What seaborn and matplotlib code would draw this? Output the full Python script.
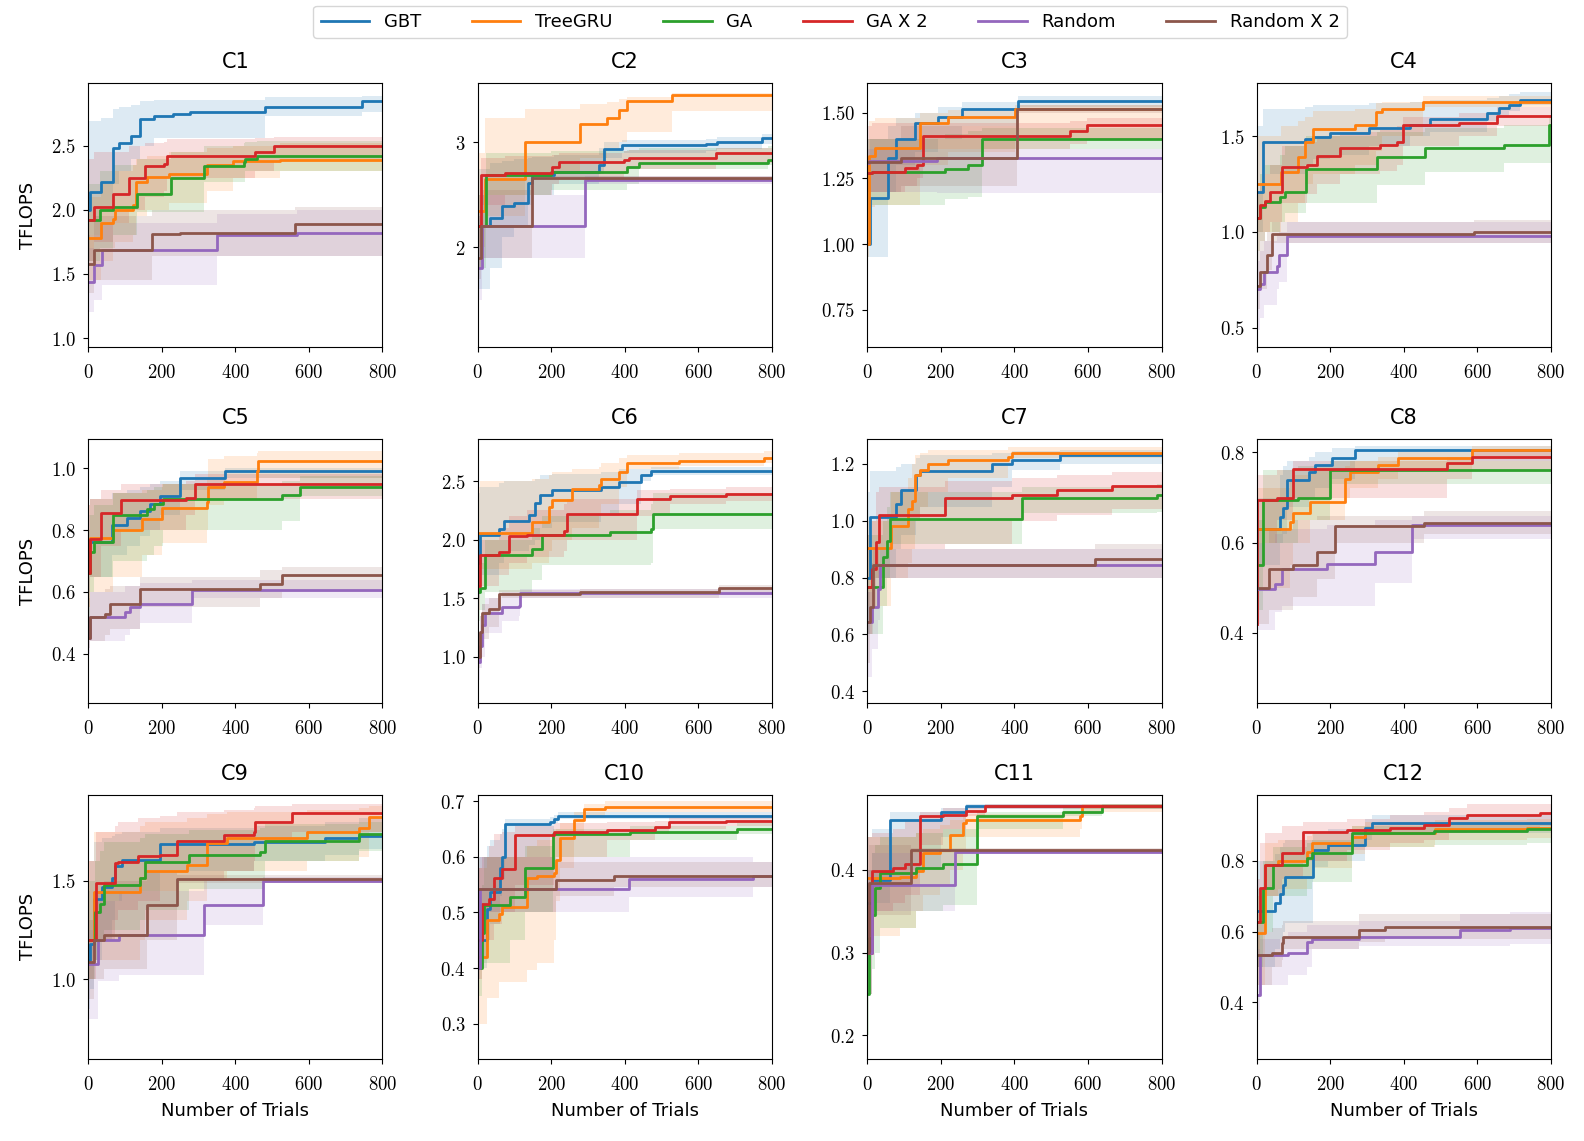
import matplotlib
matplotlib.use("Agg")
import matplotlib.pyplot as plt
from matplotlib.ticker import FuncFormatter
from matplotlib.lines import Line2D
import seaborn as sns
import pandas as pd

plt.rcParams["mathtext.fontset"] = "cm"
plt.rcParams["font.family"] = ["DejaVu Sans"]

METHODS = ["GBT", "TreeGRU", "GA", "GA X 2", "Random", "Random X 2"]
COLORS = ["#1f77b4", "#ff7f0e", "#2ca02c", "#d62728", "#9467bd", "#8c564b"]
TITLES = ["C%d" % i for i in range(1, 13)]
X_MAX = 800
X_TICKS = [0, 200, 400, 600, 800]

# each series: (trial breakpoints, best TFLOPS, band low, band high)
C1 = {
    "GBT": ([0, 5, 34, 69, 84, 116, 140, 178, 232, 278, 482, 745],
            [2.0, 2.14, 2.22, 2.48, 2.52, 2.58, 2.71, 2.73, 2.75, 2.76, 2.80, 2.85],
            [1.6, 1.8, 2.0, 2.2, 2.3, 2.4, 2.5, 2.56, 2.56, 2.56, 2.73, 2.76],
            [2.69, 2.69, 2.72, 2.79, 2.80, 2.82, 2.85, 2.86, 2.86, 2.86, 2.88, 2.89]),
    "TreeGRU": ([0, 34, 69, 73, 123, 131, 160, 219, 323, 395, 522],
                [1.78, 1.90, 1.93, 2.00, 2.04, 2.22, 2.26, 2.28, 2.35, 2.38, 2.39],
                [1.45, 1.6, 1.7, 1.75, 1.8, 1.95, 2.0, 2.05, 2.15, 2.25, 2.3],
                [2.1, 2.2, 2.25, 2.3, 2.35, 2.4, 2.42, 2.45, 2.48, 2.5, 2.52]),
    "GA": ([0, 33, 69, 134, 225, 314, 423, 427, 459],
           [1.92, 2.0, 2.02, 2.12, 2.25, 2.34, 2.37, 2.40, 2.42],
           [1.6, 1.7, 1.8, 1.98, 1.98, 2.22, 2.22, 2.3, 2.3],
           [2.2, 2.3, 2.35, 2.4, 2.45, 2.5, 2.52, 2.53, 2.54]),
    "GA X 2": ([0, 15, 67, 112, 155, 205, 214, 454, 506],
               [1.92, 2.02, 2.12, 2.25, 2.34, 2.36, 2.42, 2.45, 2.50],
               [1.6, 1.75, 1.9, 2.0, 2.1, 2.15, 2.25, 2.3, 2.38],
               [2.4, 2.45, 2.45, 2.5, 2.52, 2.53, 2.55, 2.56, 2.57]),
    "Random": ([0, 15, 37, 350, 568],
               [1.44, 1.57, 1.69, 1.80, 1.82],
               [1.2, 1.3, 1.41, 1.64, 1.64],
               [1.7, 1.8, 1.9, 1.97, 2.0]),
    "Random X 2": ([0, 15, 173, 250, 563],
                   [1.58, 1.69, 1.81, 1.82, 1.89],
                   [1.35, 1.45, 1.64, 1.64, 1.64],
                   [1.8, 1.95, 2.0, 2.0, 2.02]),
}

C2 = {
    "GBT": ([0, 35, 66, 98, 136, 148, 207, 329, 343, 393, 620, 651, 774],
            [2.2, 2.28, 2.39, 2.42, 2.61, 2.69, 2.72, 2.78, 2.94, 2.97, 2.98, 3.0, 3.04],
            [1.6, 1.8, 2.1, 2.2, 2.4, 2.5, 2.6, 2.7, 2.85, 2.9, 2.92, 2.94, 2.98],
            [2.75, 2.8, 2.82, 2.84, 2.85, 2.86, 2.88, 2.95, 3.0, 3.02, 3.03, 3.05, 3.08]),
    "TreeGRU": ([0, 21, 130, 278, 352, 384, 406, 529],
                [2.35, 2.65, 3.0, 3.17, 3.23, 3.31, 3.39, 3.45],
                [2.0, 2.3, 2.7, 2.85, 2.95, 3.0, 3.1, 3.3],
                [2.9, 3.23, 3.32, 3.36, 3.38, 3.41, 3.43, 3.47]),
    "GA": ([0, 24, 200, 405, 438, 790],
           [2.2, 2.69, 2.72, 2.76, 2.80, 2.83],
           [1.8, 2.5, 2.55, 2.6, 2.75, 2.78],
           [2.5, 2.9, 2.92, 2.93, 2.95, 2.96]),
    "GA X 2": ([0, 8, 75, 202, 220, 397, 411, 647],
               [2.2, 2.69, 2.71, 2.76, 2.81, 2.83, 2.85, 2.90],
               [1.8, 2.4, 2.5, 2.6, 2.65, 2.7, 2.75, 2.8],
               [2.5, 2.85, 2.87, 2.88, 2.9, 2.92, 2.93, 2.95]),
    "Random": ([0, 12, 293],
               [1.8, 2.20, 2.64],
               [1.5, 1.9, 2.6],
               [2.3, 2.5, 2.68]),
    "Random X 2": ([0, 8, 148],
                   [1.9, 2.20, 2.66],
                   [1.7, 1.9, 2.64],
                   [2.3, 2.55, 2.68]),
}

C3 = {
    "GBT": ([0, 7, 57, 78, 130, 193, 257, 411],
            [1.0, 1.176, 1.326, 1.40, 1.46, 1.485, 1.513, 1.544],
            [0.95, 0.95, 1.2, 1.3, 1.35, 1.4, 1.45, 1.52],
            [1.3, 1.4, 1.45, 1.48, 1.5, 1.52, 1.54, 1.565]),
    "TreeGRU": ([0, 5, 21, 143, 220, 402],
                [1.0, 1.336, 1.367, 1.46, 1.485, 1.513],
                [0.95, 1.14, 1.15, 1.3, 1.35, 1.4],
                [1.1, 1.47, 1.48, 1.5, 1.51, 1.53]),
    "GA": ([0, 12, 211, 275, 311],
           [1.27, 1.275, 1.286, 1.30, 1.40],
           [1.15, 1.15, 1.17, 1.18, 1.36],
           [1.40, 1.40, 1.42, 1.43, 1.44]),
    "GA X 2": ([0, 12, 103, 136, 152, 551, 597],
               [1.27, 1.275, 1.288, 1.30, 1.41, 1.43, 1.455],
               [1.2, 1.2, 1.22, 1.25, 1.36, 1.38, 1.4],
               [1.45, 1.46, 1.46, 1.46, 1.46, 1.47, 1.48]),
    "Random": ([0, 5, 190],
               [1.31, 1.315, 1.326],
               [1.2, 1.2, 1.193],
               [1.36, 1.36, 1.36]),
    "Random X 2": ([0, 93, 406],
                   [1.313, 1.326, 1.513],
                   [1.2, 1.22, 1.5],
                   [1.4, 1.45, 1.53]),
}

C4 = {
    "GBT": ([0, 16, 132, 154, 198, 304, 417, 472, 626, 658, 685, 715],
            [1.21, 1.47, 1.484, 1.497, 1.514, 1.54, 1.557, 1.59, 1.62, 1.645, 1.66, 1.69],
            [1.0, 1.3, 1.35, 1.38, 1.4, 1.45, 1.5, 1.52, 1.58, 1.6, 1.63, 1.66],
            [1.55, 1.64, 1.65, 1.66, 1.66, 1.67, 1.68, 1.69, 1.70, 1.71, 1.72, 1.73]),
    "TreeGRU": ([0, 65, 113, 132, 154, 268, 325, 340, 453],
                [1.25, 1.31, 1.39, 1.47, 1.535, 1.557, 1.627, 1.64, 1.68],
                [1.0, 1.05, 1.15, 1.25, 1.3, 1.35, 1.42, 1.5, 1.65],
                [1.5, 1.55, 1.58, 1.6, 1.63, 1.64, 1.67, 1.68, 1.71]),
    "GA": ([0, 9, 23, 64, 77, 134, 327, 458, 671, 794],
           [1.07, 1.13, 1.157, 1.18, 1.21, 1.33, 1.39, 1.436, 1.453, 1.557],
           [0.9, 0.95, 1.0, 1.05, 1.1, 1.148, 1.244, 1.314, 1.357, 1.36],
           [1.2, 1.3, 1.35, 1.4, 1.45, 1.5, 1.52, 1.54, 1.56, 1.6]),
    "GA X 2": ([0, 9, 23, 36, 68, 136, 163, 227, 336, 381, 397, 549, 653],
               [1.07, 1.14, 1.16, 1.21, 1.34, 1.35, 1.397, 1.44, 1.453, 1.47, 1.557, 1.566, 1.606],
               [0.9, 0.95, 1.0, 1.05, 1.15, 1.2, 1.25, 1.3, 1.32, 1.35, 1.45, 1.5, 1.55],
               [1.2, 1.25, 1.3, 1.35, 1.45, 1.47, 1.5, 1.52, 1.53, 1.55, 1.6, 1.62, 1.65]),
    "Random": ([0, 9, 20, 54, 62, 82],
               [0.70, 0.73, 0.79, 0.82, 0.878, 0.98],
               [0.49, 0.55, 0.62, 0.7, 0.74, 0.94],
               [0.85, 0.9, 0.95, 0.98, 1.0, 1.05]),
    "Random X 2": ([0, 9, 27, 41, 590],
                   [0.72, 0.79, 0.88, 0.99, 1.0],
                   [0.6, 0.7, 0.8, 0.94, 0.94],
                   [0.9, 0.95, 1.0, 1.05, 1.06]),
}

C5 = {
    "GBT": ([0, 5, 64, 105, 142, 169, 196, 250, 373],
            [0.66, 0.762, 0.816, 0.838, 0.862, 0.886, 0.911, 0.968, 0.991],
            [0.6, 0.65, 0.72, 0.75, 0.78, 0.8, 0.85, 0.93, 0.97],
            [0.85, 0.9, 0.92, 0.93, 0.94, 0.95, 0.96, 0.99, 1.0]),
    "TreeGRU": ([0, 5, 69, 146, 200, 323, 327, 368, 459, 463],
                [0.66, 0.775, 0.80, 0.836, 0.87, 0.89, 0.94, 0.957, 0.991, 1.022],
                [0.55, 0.6, 0.65, 0.72, 0.76, 0.8, 0.88, 0.9, 0.95, 0.97],
                [0.88, 0.9, 0.92, 0.93, 0.95, 0.97, 1.03, 1.04, 1.05, 1.055]),
    "GA": ([0, 5, 15, 67, 160, 178, 203, 527, 577],
           [0.66, 0.73, 0.762, 0.849, 0.868, 0.886, 0.90, 0.914, 0.94],
           [0.5, 0.6, 0.65, 0.7, 0.72, 0.75, 0.8, 0.83, 0.91],
           [0.8, 0.85, 0.88, 0.92, 0.93, 0.94, 0.95, 0.96, 0.975]),
    "GA X 2": ([0, 5, 34, 89, 267, 291],
               [0.66, 0.77, 0.856, 0.897, 0.903, 0.948],
               [0.55, 0.65, 0.75, 0.8, 0.85, 0.9],
               [0.88, 0.9, 0.93, 0.95, 0.96, 0.98]),
    "Random": ([0, 5, 101, 114, 141, 282],
               [0.45, 0.52, 0.535, 0.55, 0.56, 0.605],
               [0.4, 0.44, 0.46, 0.48, 0.5, 0.58],
               [0.55, 0.6, 0.62, 0.62, 0.63, 0.64]),
    "Random X 2": ([0, 5, 46, 60, 142, 468, 527],
                   [0.45, 0.52, 0.53, 0.56, 0.61, 0.627, 0.656],
                   [0.42, 0.44, 0.46, 0.48, 0.55, 0.58, 0.6],
                   [0.58, 0.6, 0.61, 0.62, 0.65, 0.67, 0.68]),
}

C6 = {
    "GBT": ([0, 7, 57, 71, 139, 157, 170, 202, 334, 384, 443, 470],
            [1.8, 2.037, 2.09, 2.16, 2.21, 2.31, 2.38, 2.42, 2.45, 2.49, 2.55, 2.586],
            [1.5, 1.7, 1.8, 1.9, 1.95, 2.0, 2.1, 2.15, 2.2, 2.3, 2.5, 2.55],
            [2.4, 2.45, 2.48, 2.5, 2.5, 2.52, 2.55, 2.56, 2.58, 2.6, 2.6, 2.62]),
    "TreeGRU": ([0, 7, 148, 193, 202, 257, 329, 334, 384, 406, 547, 778],
                [2.06, 2.06, 2.146, 2.28, 2.34, 2.43, 2.466, 2.52, 2.58, 2.65, 2.67, 2.70],
                [1.7, 1.75, 1.8, 1.9, 2.0, 2.1, 2.2, 2.3, 2.45, 2.6, 2.63, 2.65],
                [2.45, 2.5, 2.52, 2.55, 2.58, 2.6, 2.62, 2.65, 2.7, 2.72, 2.74, 2.76]),
    "GA": ([0, 7, 21, 148, 175, 361, 470, 477],
           [1.55, 1.59, 1.866, 1.92, 2.037, 2.066, 2.09, 2.22],
           [1.3, 1.4, 1.55, 1.65, 1.78, 1.78, 1.8, 2.09],
           [1.7, 1.8, 2.0, 2.1, 2.2, 2.25, 2.3, 2.4]),
    "GA X 2": ([0, 6, 57, 84, 134, 234, 243, 433, 524, 674],
               [1.6, 1.87, 1.89, 2.03, 2.04, 2.07, 2.22, 2.35, 2.37, 2.39],
               [1.4, 1.6, 1.7, 1.8, 1.85, 1.9, 2.0, 2.2, 2.3, 2.33],
               [1.9, 2.0, 2.1, 2.2, 2.25, 2.3, 2.35, 2.42, 2.43, 2.45]),
    "Random": ([0, 6, 12, 21, 66, 112, 116],
               [0.95, 1.09, 1.27, 1.37, 1.42, 1.43, 1.545],
               [0.8, 0.9, 1.0, 1.2, 1.3, 1.35, 1.5],
               [1.2, 1.35, 1.45, 1.5, 1.55, 1.55, 1.58]),
    "Random X 2": ([0, 6, 12, 30, 57, 279, 656],
                   [1.0, 1.21, 1.37, 1.41, 1.537, 1.55, 1.586],
                   [0.9, 1.0, 1.15, 1.25, 1.5, 1.5, 1.53],
                   [1.2, 1.35, 1.45, 1.5, 1.57, 1.58, 1.61]),
}

C7 = {
    "GBT": ([0, 7, 78, 93, 134, 143, 338, 393, 524],
            [0.8, 1.014, 1.06, 1.108, 1.16, 1.175, 1.199, 1.214, 1.23],
            [0.6, 0.8, 0.9, 0.95, 1.0, 1.05, 1.12, 1.18, 1.2],
            [1.1, 1.175, 1.19, 1.2, 1.22, 1.23, 1.24, 1.245, 1.25]),
    "TreeGRU": ([0, 66, 112, 121, 130, 143, 166, 220, 384, 393],
                [0.905, 0.98, 1.04, 1.07, 1.16, 1.18, 1.2, 1.214, 1.226, 1.24],
                [0.7, 0.8, 0.85, 0.9, 1.0, 1.05, 1.1, 1.15, 1.2, 1.22],
                [1.0, 1.1, 1.15, 1.2, 1.23, 1.24, 1.25, 1.25, 1.26, 1.26]),
    "GA": ([0, 44, 53, 62, 420, 787],
           [0.767, 0.873, 0.93, 1.008, 1.08, 1.09],
           [0.6, 0.7, 0.8, 0.92, 1.026, 1.03],
           [0.95, 1.0, 1.05, 1.1, 1.12, 1.13]),
    "GA X 2": ([0, 12, 25, 33, 211, 393, 515, 665],
               [0.767, 0.83, 0.926, 1.02, 1.08, 1.09, 1.108, 1.122],
               [0.6, 0.7, 0.8, 0.9, 0.92, 1.0, 1.02, 1.04],
               [0.95, 1.0, 1.1, 1.12, 1.14, 1.15, 1.16, 1.17]),
    "Random": ([0, 12, 30, 36],
               [0.644, 0.696, 0.76, 0.846],
               [0.45, 0.55, 0.65, 0.8],
               [0.75, 0.8, 0.85, 0.9]),
    "Random X 2": ([0, 9, 16, 620],
                   [0.644, 0.696, 0.843, 0.865],
                   [0.5, 0.6, 0.8, 0.8],
                   [0.75, 0.85, 0.9, 0.92]),
}

C8 = {
    "GBT": ([0, 63, 73, 83, 141, 159, 204, 268],
            [0.631, 0.657, 0.677, 0.739, 0.757, 0.773, 0.787, 0.805],
            [0.55, 0.6, 0.62, 0.68, 0.7, 0.72, 0.74, 0.78],
            [0.7, 0.75, 0.77, 0.78, 0.79, 0.8, 0.81, 0.815]),
    "TreeGRU": ([0, 91, 100, 145, 240, 254, 331, 385, 585],
                [0.631, 0.646, 0.666, 0.689, 0.742, 0.756, 0.773, 0.788, 0.805],
                [0.5, 0.55, 0.6, 0.65, 0.7, 0.72, 0.74, 0.76, 0.79],
                [0.72, 0.74, 0.75, 0.76, 0.77, 0.78, 0.79, 0.8, 0.815]),
    "GA": ([0, 16, 113, 198],
           [0.55, 0.694, 0.70, 0.761],
           [0.45, 0.6, 0.65, 0.731],
           [0.65, 0.76, 0.77, 0.78]),
    "GA X 2": ([0, 2, 54, 100, 517, 585],
               [0.42, 0.694, 0.70, 0.763, 0.776, 0.79],
               [0.4, 0.6, 0.65, 0.7, 0.74, 0.76],
               [0.6, 0.75, 0.76, 0.78, 0.79, 0.8]),
    "Random": ([0, 50, 68, 191, 322, 422],
               [0.498, 0.509, 0.542, 0.553, 0.579, 0.638],
               [0.405, 0.446, 0.46, 0.46, 0.51, 0.609],
               [0.6, 0.62, 0.63, 0.64, 0.65, 0.66]),
    "Random X 2": ([0, 34, 100, 163, 213, 454],
                   [0.5, 0.542, 0.551, 0.58, 0.637, 0.644],
                   [0.42, 0.45, 0.48, 0.52, 0.6, 0.62],
                   [0.6, 0.63, 0.65, 0.66, 0.66, 0.67]),
}

C9 = {
    "GBT": ([0, 5, 15, 37, 64, 73, 91, 196, 450, 645, 736],
            [1.1, 1.18, 1.41, 1.47, 1.514, 1.578, 1.607, 1.686, 1.70, 1.717, 1.73],
            [0.85, 0.95, 1.1, 1.2, 1.3, 1.4, 1.45, 1.55, 1.6, 1.63, 1.66],
            [1.45, 1.6, 1.7, 1.72, 1.73, 1.74, 1.75, 1.77, 1.78, 1.8, 1.82]),
    "TreeGRU": ([0, 15, 141, 155, 268, 323, 377, 595, 736, 763],
                [1.2, 1.446, 1.514, 1.55, 1.58, 1.69, 1.72, 1.747, 1.768, 1.827],
                [1.0, 1.1, 1.2, 1.3, 1.4, 1.5, 1.55, 1.6, 1.62, 1.75],
                [1.6, 1.75, 1.78, 1.8, 1.82, 1.84, 1.85, 1.86, 1.87, 1.88]),
    "GA": ([0, 19, 33, 42, 141, 155, 273, 468, 482, 736],
           [1.2, 1.344, 1.38, 1.48, 1.514, 1.598, 1.632, 1.646, 1.703, 1.737],
           [1.0, 1.1, 1.2, 1.25, 1.3, 1.35, 1.46, 1.46, 1.6, 1.65],
           [1.5, 1.6, 1.65, 1.7, 1.72, 1.74, 1.76, 1.77, 1.79, 1.8]),
    "GA X 2": ([0, 22, 73, 82, 137, 196, 241, 368, 450, 454, 554],
               [1.2, 1.49, 1.59, 1.598, 1.624, 1.632, 1.705, 1.734, 1.75, 1.797, 1.844],
               [1.0, 1.2, 1.3, 1.35, 1.4, 1.45, 1.5, 1.55, 1.6, 1.7, 1.75],
               [1.6, 1.75, 1.78, 1.8, 1.82, 1.83, 1.85, 1.86, 1.87, 1.88, 1.89]),
    "Random": ([0, 28, 83, 314, 475],
               [1.08, 1.2, 1.225, 1.375, 1.5],
               [0.8, 0.99, 1.02, 1.276, 1.49],
               [1.25, 1.4, 1.45, 1.5, 1.52]),
    "Random X 2": ([0, 15, 42, 160, 241],
                   [1.086, 1.2, 1.225, 1.375, 1.51],
                   [0.9, 1.0, 1.05, 1.2, 1.49],
                   [1.3, 1.45, 1.5, 1.55, 1.53]),
}

C10 = {
    "GBT": ([0, 25, 34, 62, 66, 75, 198, 207, 218],
            [0.45, 0.507, 0.537, 0.579, 0.6, 0.658, 0.663, 0.667, 0.674],
            [0.4, 0.45, 0.48, 0.53, 0.56, 0.6, 0.64, 0.66, 0.668],
            [0.6, 0.62, 0.63, 0.64, 0.65, 0.667, 0.672, 0.675, 0.68]),
    "TreeGRU": ([0, 25, 57, 66, 134, 161, 207, 214, 225, 261, 288, 347],
                [0.42, 0.486, 0.498, 0.51, 0.562, 0.566, 0.57, 0.594, 0.633, 0.666, 0.686, 0.69],
                [0.3, 0.346, 0.376, 0.376, 0.397, 0.41, 0.45, 0.52, 0.58, 0.64, 0.67, 0.68],
                [0.58, 0.6, 0.6, 0.6, 0.62, 0.63, 0.64, 0.65, 0.66, 0.68, 0.695, 0.7]),
    "GA": ([0, 12, 18, 89, 130, 205, 415, 706],
           [0.4, 0.463, 0.513, 0.528, 0.579, 0.64, 0.644, 0.65],
           [0.35, 0.4, 0.41, 0.45, 0.5, 0.6, 0.63, 0.64],
           [0.5, 0.55, 0.6, 0.6, 0.62, 0.65, 0.655, 0.66]),
    "GA X 2": ([0, 12, 30, 44, 66, 102, 207, 352, 483, 520, 674],
               [0.45, 0.516, 0.525, 0.562, 0.578, 0.639, 0.645, 0.648, 0.654, 0.662, 0.665],
               [0.38, 0.42, 0.45, 0.48, 0.5, 0.55, 0.6, 0.63, 0.64, 0.65, 0.655],
               [0.58, 0.6, 0.62, 0.64, 0.645, 0.655, 0.66, 0.662, 0.665, 0.672, 0.675]),
    "Random": ([0, 7, 411, 747],
               [0.4, 0.542, 0.56, 0.566],
               [0.38, 0.5, 0.528, 0.545],
               [0.58, 0.6, 0.6, 0.59]),
    "Random X 2": ([0, 214, 372],
                   [0.542, 0.558, 0.566],
                   [0.5, 0.53, 0.545],
                   [0.6, 0.59, 0.59]),
}

C11 = {
    "GBT": ([0, 12, 63, 202, 270],
            [0.36, 0.388, 0.461, 0.47, 0.477],
            [0.3, 0.36, 0.4, 0.44, 0.474],
            [0.44, 0.45, 0.47, 0.475, 0.48]),
    "TreeGRU": ([0, 89, 134, 152, 198, 225, 261, 270, 579, 583],
                [0.39, 0.392, 0.399, 0.42, 0.424, 0.442, 0.457, 0.461, 0.466, 0.477],
                [0.32, 0.33, 0.35, 0.37, 0.38, 0.4, 0.42, 0.44, 0.45, 0.47],
                [0.44, 0.44, 0.445, 0.45, 0.455, 0.46, 0.465, 0.468, 0.472, 0.48]),
    "GA": ([0, 5, 14, 21, 34, 134, 207, 298, 533, 638],
           [0.25, 0.317, 0.345, 0.378, 0.396, 0.402, 0.407, 0.465, 0.47, 0.477],
           [0.2, 0.25, 0.28, 0.3, 0.33, 0.35, 0.358, 0.45, 0.465, 0.474],
           [0.35, 0.4, 0.42, 0.43, 0.44, 0.445, 0.45, 0.47, 0.475, 0.48]),
    "GA X 2": ([0, 14, 71, 102, 145, 207, 270, 320],
               [0.3, 0.399, 0.402, 0.407, 0.465, 0.467, 0.472, 0.477],
               [0.25, 0.35, 0.36, 0.37, 0.43, 0.45, 0.465, 0.474],
               [0.44, 0.445, 0.45, 0.46, 0.47, 0.475, 0.478, 0.48]),
    "Random": ([0, 12, 238],
               [0.3, 0.382, 0.422],
               [0.25, 0.35, 0.42],
               [0.4, 0.42, 0.425]),
    "Random X 2": ([0, 5, 118],
                   [0.3, 0.384, 0.424],
                   [0.3, 0.345, 0.42],
                   [0.4, 0.43, 0.427]),
}

C12 = {
    "GBT": ([0, 50, 63, 73, 77, 154, 195, 295, 313],
            [0.658, 0.68, 0.706, 0.732, 0.756, 0.831, 0.845, 0.894, 0.908],
            [0.5, 0.55, 0.58, 0.6, 0.624, 0.784, 0.8, 0.86, 0.88],
            [0.8, 0.82, 0.84, 0.85, 0.86, 0.88, 0.89, 0.92, 0.93]),
    "TreeGRU": ([0, 23, 59, 136, 150, 259, 295, 485, 735],
                [0.595, 0.79, 0.80, 0.826, 0.85, 0.869, 0.878, 0.89, 0.894],
                [0.45, 0.7, 0.72, 0.75, 0.78, 0.82, 0.84, 0.86, 0.865],
                [0.7, 0.85, 0.86, 0.87, 0.88, 0.9, 0.91, 0.915, 0.92]),
    "GA": ([0, 18, 45, 136, 150, 259, 481, 735],
           [0.628, 0.725, 0.79, 0.808, 0.822, 0.878, 0.886, 0.89],
           [0.5, 0.6, 0.7, 0.72, 0.74, 0.84, 0.845, 0.85],
           [0.72, 0.8, 0.84, 0.85, 0.86, 0.9, 0.91, 0.91]),
    "GA X 2": ([0, 9, 23, 68, 127, 245, 363, 454, 522, 571, 771],
               [0.628, 0.725, 0.79, 0.824, 0.883, 0.888, 0.892, 0.902, 0.923, 0.93, 0.935],
               [0.5, 0.6, 0.7, 0.75, 0.8, 0.83, 0.85, 0.86, 0.88, 0.89, 0.9],
               [0.75, 0.85, 0.88, 0.9, 0.91, 0.92, 0.93, 0.94, 0.95, 0.96, 0.96]),
    "Random": ([0, 9, 86, 136, 150, 277, 553, 689],
               [0.42, 0.534, 0.541, 0.572, 0.58, 0.586, 0.605, 0.61],
               [0.35, 0.45, 0.477, 0.5, 0.55, 0.56, 0.56, 0.565],
               [0.55, 0.58, 0.6, 0.62, 0.62, 0.63, 0.65, 0.655]),
    "Random X 2": ([0, 41, 68, 73, 277, 349],
                   [0.534, 0.539, 0.567, 0.586, 0.605, 0.614],
                   [0.45, 0.5, 0.52, 0.55, 0.57, 0.58],
                   [0.6, 0.61, 0.62, 0.63, 0.65, 0.65]),
}

PANELS = [C1, C2, C3, C4, C5, C6, C7, C8, C9, C10, C11, C12]
YLIMS = [(0.93, 2.99), (1.05, 3.565), (0.609, 1.613), (0.399, 1.777),
         (0.241, 1.095), (0.603, 2.86), (0.359, 1.288), (0.244, 0.83),
         (0.595, 1.937), (0.237, 0.711), (0.171, 0.491), (0.24, 0.987)]
YTICKS = [[1.0, 1.5, 2.0, 2.5], [2, 3], [0.75, 1.00, 1.25, 1.50], [0.5, 1.0, 1.5],
          [0.4, 0.6, 0.8, 1.0], [1.0, 1.5, 2.0, 2.5], [0.4, 0.6, 0.8, 1.0, 1.2], [0.4, 0.6, 0.8],
          [1.0, 1.5], [0.3, 0.4, 0.5, 0.6, 0.7], [0.2, 0.3, 0.4], [0.4, 0.6, 0.8]]
YDEC = [1, 0, 2, 1, 1, 1, 1, 1, 1, 1, 1, 1]

palette = dict(zip(METHODS, COLORS))
LW = 2.0

fig, axes = plt.subplots(3, 4, figsize=(15.84, 11.41), dpi=100)
fig.subplots_adjust(left=0.0556, right=0.9792, top=0.9273, bottom=0.0719,
                    wspace=0.323, hspace=0.348)

for i, (ax, panel) in enumerate(zip(axes.flat, PANELS)):
    rows = []
    for m in METHODS:
        xs, ys, lo, hi = panel[m]
        xe = list(xs) + [X_MAX]
        ye = list(ys) + [ys[-1]]
        loe = list(lo) + [lo[-1]]
        hie = list(hi) + [hi[-1]]
        ax.fill_between(xe, loe, hie, step="post", color=palette[m],
                        alpha=0.15, linewidth=0)
        for xv, yv in zip(xe, ye):
            rows.append({"trial": xv, "tflops": yv, "method": m})
    df = pd.DataFrame(rows)
    sns.lineplot(data=df, x="trial", y="tflops", hue="method", hue_order=METHODS,
                 palette=palette, drawstyle="steps-post", errorbar=None,
                 estimator=None, sort=False, legend=False, linewidth=LW, ax=ax)
    ax.set_xlim(0, X_MAX)
    ax.set_ylim(*YLIMS[i])
    ax.set_xticks(X_TICKS)
    ax.set_yticks(YTICKS[i])
    d = YDEC[i]
    ax.yaxis.set_major_formatter(FuncFormatter(lambda v, p, d=d: "$%.*f$" % (d, v)))
    ax.xaxis.set_major_formatter(FuncFormatter(lambda v, p: "$%d$" % v))
    ax.tick_params(labelsize=13.5)
    ax.tick_params(axis="x", pad=8)
    ax.tick_params(axis="y", pad=5)
    ax.set_title(TITLES[i], fontsize=15, pad=10.5)
    ax.set_xlabel("Number of Trials" if i >= 8 else "", fontsize=13, labelpad=6)
    ax.set_ylabel("TFLOPS" if i % 4 == 0 else "", fontsize=13, labelpad=10)

handles = [Line2D([], [], color=c, lw=LW) for c in COLORS]
fig.legend(handles, METHODS, loc="upper center", bbox_to_anchor=(0.524, 1.003),
           ncol=6, fontsize=13, handlelength=2.7, columnspacing=2.8,
           handletextpad=0.8, frameon=True)

fig.savefig("out.png", dpi=100)
